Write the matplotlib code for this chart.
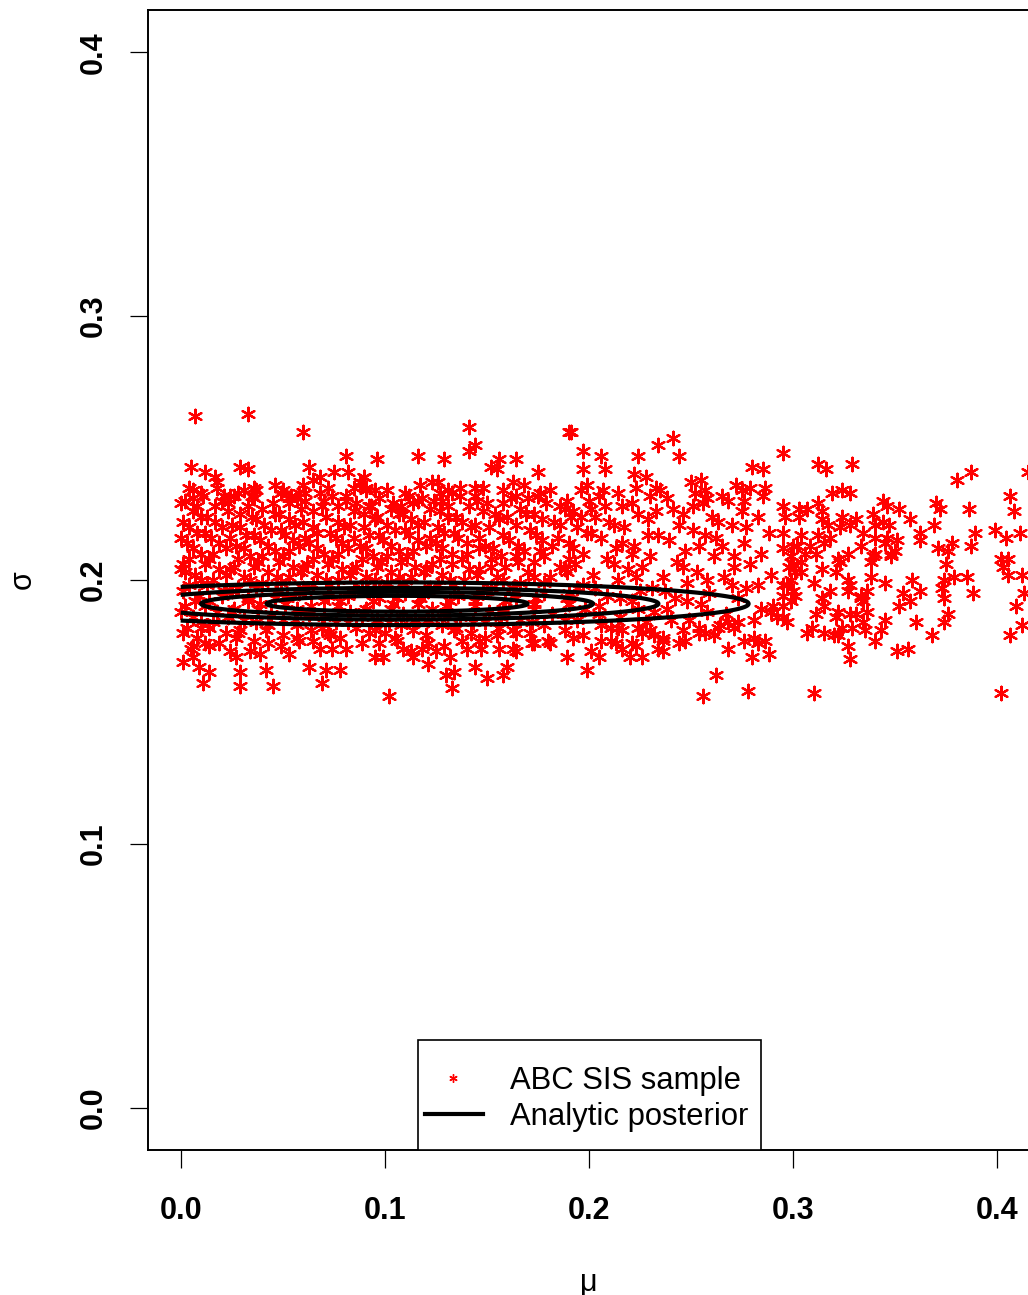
import numpy as np
import matplotlib.pyplot as plt
from matplotlib.lines import Line2D
from matplotlib.patches import Rectangle

plt.rcParams['font.family'] = ['Liberation Sans', 'DejaVu Sans']

# ABC SIS sample, values in thousandths (mu, sigma)
core_a = [
    (4,235),(18,237),(31,234),(46,236),(58,233),(72,235),(88,237),(101,234),(117,236),(133,233),(148,235),(163,237),(181,234),(199,236),(214,233),(233,235),(257,234),(272,236),
    (2,230),(11,232),(23,229),(36,231),(49,233),(61,230),(74,232),(86,229),(97,231),(110,233),(124,230),(137,232),(150,229),(162,231),(176,233),(189,230),(205,232),(221,229),(238,231),(252,233),(268,230),(285,232),
    (6,226),(17,228),(29,225),(40,227),(53,229),(65,226),(77,228),(90,225),(103,227),(114,229),(127,226),(141,228),(154,225),(166,227),(179,229),(192,226),(208,228),(224,225),(241,227),(256,229),(275,226),
    (1,222),(13,224),(25,221),(37,223),(48,225),(60,222),(71,224),(83,221),(95,223),(107,225),(119,222),(131,224),(144,221),(156,223),(169,225),(183,222),(196,224),(212,221),(229,223),(246,225),(263,222),(283,224),
    (8,218),(20,220),(32,217),(44,219),(56,221),(67,218),(80,220),(92,217),(105,219),(116,221),(129,218),(142,220),(158,217),(171,219),(186,221),(201,218),(217,220),(234,217),(251,219),(270,221),(288,218),
    (3,214),(15,216),(27,213),(39,215),(51,217),(63,214),(76,216),(88,213),(99,215),(112,217),(125,214),(136,216),(149,213),(161,215),(174,217),(190,214),(206,216),(222,213),(239,215),(257,217),(276,214),
    (10,210),(22,212),(34,209),(46,211),(58,213),(70,210),(82,212),(94,209),(107,211),(120,213),(133,210),(146,212),(157,209),(168,211),(182,213),(197,210),(213,212),(230,209),(247,211),(265,213),(284,210),
    (1,206),(14,208),(26,205),(38,207),(50,209),(62,206),(74,208),(86,205),(98,207),(111,209),(123,206),(138,208),(152,205),(165,207),(178,209),(193,206),(209,208),(226,205),(243,207),(261,209),(279,206),
    (7,202),(19,204),(31,201),(43,203),(55,205),(67,202),(79,204),(91,201),(103,203),(115,205),(128,202),(141,204),(155,201),(170,203),(186,205),(202,202),(219,204),(236,201),(253,203),(271,205),(289,202),
    (4,198),(16,200),(28,197),(40,199),(53,201),(65,198),(77,200),(89,197),(101,199),(113,201),(126,198),(139,200),(152,197),(166,199),(181,201),(197,198),(214,200),(231,197),(248,199),(266,201),(283,198),
    (9,194),(21,196),(33,193),(47,195),(60,197),(72,194),(85,196),(97,193),(110,195),(122,197),(136,194),(150,196),(164,193),(178,195),(194,197),(209,194),(225,196),(242,193),(259,195),(277,197),
    (2,190),(14,192),(26,189),(39,191),(52,193),(64,190),(78,192),(91,189),(104,191),(117,193),(130,190),(144,192),(158,189),(173,191),(189,193),(205,190),(221,192),(238,189),(255,191),(273,193),(290,190),
    (6,186),(18,188),(31,185),(44,187),(57,189),(70,186),(83,188),(96,185),(109,187),(123,189),(137,186),(151,188),(166,185),(182,187),(198,189),(215,186),(232,188),(249,185),(267,187),(284,189),
    (3,182),(16,184),(29,181),(43,183),(56,185),(69,182),(82,184),(95,181),(108,183),(121,185),(135,182),(149,184),(163,181),(178,183),(194,185),(211,182),(228,184),(246,181),(264,183),(281,185),
    (8,178),(22,180),(36,177),(50,179),(64,181),(78,178),(92,180),(106,177),(120,179),(134,181),(149,178),(164,180),(180,177),(197,179),(216,181),(236,178),(257,180),(276,177),
    (5,174),(19,176),(34,173),(49,175),(65,177),(81,174),(97,176),(113,173),(129,175),(146,177),(163,174),(181,176),(201,173),(223,175),(247,177),(268,174),
]
core_b = [
    (10,233),(24,232),(37,234),(54,232),(68,233),(81,232),(95,234),(112,232),(127,233),(144,232),(158,234),(175,232),
    (0,229),(8,228),(20,230),(33,228),(45,229),(57,231),(69,228),(81,230),(92,228),(104,229),(118,231),(131,228),(145,230),(158,229),(170,231),(186,228),(200,230),
    (10,224),(23,226),(35,224),(46,225),(59,227),(71,224),(85,226),(96,224),(109,225),(122,227),(135,224),(148,226),(160,224),(173,225),(188,227),(203,224),(233,226),(260,224),
    (4,220),(17,222),(29,220),(41,221),(53,223),(65,220),(77,222),(90,220),(101,221),(113,223),(126,220),(138,222),(151,220),(164,221),(177,223),(194,220),(210,222),(244,221),(277,220),
    (0,216),(12,218),(24,216),(36,217),(49,219),(61,216),(73,218),(85,216),(97,217),(110,219),(122,216),(134,218),(146,216),(158,217),(171,219),(185,216),(199,218),(229,217),(262,216),
    (6,212),(19,214),(31,212),(43,213),(55,215),(67,212),(79,214),(91,212),(103,213),(116,215),(128,212),(140,214),(153,212),(165,213),(177,215),(192,212),(216,214),(254,213),
    (4,208),(16,210),(28,208),(40,209),(53,211),(65,208),(77,210),(89,208),(101,209),(114,211),(127,208),(140,210),(152,208),(164,209),(176,211),(190,208),(221,210),(271,209),
    (0,204),(12,206),(24,204),(36,205),(48,207),(60,204),(72,206),(84,204),(96,205),(108,207),(120,204),(133,206),(146,204),(159,205),(173,207),(188,204),(212,206),(246,205),
    (10,200),(22,202),(34,200),(47,201),(59,203),(71,200),(83,202),(95,200),(107,201),(119,203),(132,200),(145,202),(158,200),(173,201),(189,203),(223,201),(258,200),
    (1,196),(13,198),(25,196),(37,197),(49,199),(61,196),(73,198),(85,196),(97,197),(109,199),(121,196),(134,198),(148,196),(163,197),(178,199),(203,197),(237,196),(270,198),
    (7,192),(20,194),(33,192),(46,193),(58,195),(70,192),(82,194),(94,192),(106,193),(119,195),(132,192),(145,194),(159,192),(174,193),(190,195),(215,193),(248,192),
    (0,188),(12,190),(25,188),(38,189),(51,191),(64,188),(77,190),(90,188),(103,189),(116,191),(130,188),(144,190),(158,188),(173,189),(190,191),(224,189),(258,188),
    (10,184),(23,186),(37,184),(50,185),(63,187),(76,184),(89,186),(102,184),(115,185),(129,187),(143,184),(157,186),(172,184),(188,185),(205,187),(240,185),(273,184),
    (1,180),(14,182),(28,180),(42,181),(57,183),(72,180),(86,182),(100,180),(114,181),(128,183),(142,180),(156,182),(171,180),(188,181),(206,183),(226,180),(254,182),
    (12,176),(27,178),(43,176),(58,177),(73,179),(89,176),(105,178),(121,176),(138,177),(155,179),(173,176),(192,178),(213,176),(236,177),(261,179),(283,176),
]
edge_pts = [
    (7,262),(33,263),(60,256),(81,247),(5,243),(12,241),(17,239),(29,243),(33,242),(63,243),(75,241),(82,241),(90,239),(68,239),(65,238),(60,236),(18,235),(36,235),(21,232),(26,232),(28,233),(35,232),(50,234),(53,231),(61,233),(6,234),(6,231),(85,235),(91,235),(70,230),
    (1,169),(6,171),(9,167),(14,165),(11,161),(29,165),(29,160),(42,166),(45,160),(63,167),(69,161),(71,166),(78,166),(74,174),(68,174),(53,172),(57,178),(24,173),(27,171),(39,172),(14,175),(6,175),(10,182),(2,203),
    (141,258),(141,249),(144,251),(96,246),(116,247),(129,246),(152,243),(155,242),(156,246),(164,246),(175,241),(190,256),(90,239),(91,234),(123,237),(126,237),(131,234),(137,235),(144,235),(168,236),(175,232),(164,232),(128,230),(116,230),(108,228),(93,228),(186,228),(191,224),
    (102,156),(133,159),(130,164),(134,165),(150,163),(144,167),(158,164),(160,167),(121,168),(114,171),(95,171),(99,171),(140,174),(147,174),(156,174),(164,173),(172,176),(189,171),(125,173),(132,171),(109,174),(118,174),
    (191,256),(197,249),(206,247),(224,247),(234,251),(241,254),(244,247),(197,242),(208,242),(222,240),(228,239),(250,237),(255,238),(280,243),(285,242),(196,234),(207,234),(223,235),(235,234),(275,234),(279,235),(286,235),(265,232),(258,231),(230,232),(216,228),(201,227),(251,228),(276,230),
    (199,166),(205,171),(216,174),(221,176),(220,171),(226,171),(234,174),(236,173),(244,176),(254,180),(262,164),(256,156),(278,158),(280,171),(288,172),(283,176),(286,177),(281,178),(211,177),(206,177),(214,182),(224,182),(230,181),(232,179),(289,188),(292,186),(268,184),(271,182),(263,182),
]
tail_pts = [
    (295,248),(312,244),(316,242),(329,244),(319,233),(324,234),(328,233),(380,238),(387,241),(415,241),(406,232),(408,226),(399,219),(404,216),(411,218),(389,218),(386,227),(387,213),(370,229),(372,227),(369,221),(378,214),(376,211),(371,212),(375,206),(385,201),(388,195),(379,201),(374,200),(373,197),(374,193),(376,187),(374,184),(368,179),(402,208),(405,208),(403,205),(405,202),(412,202),(413,195),(409,190),(412,183),(406,179),(402,157),(310,157),
    (358,200),(362,196),(354,195),(357,192),(352,190),(360,184),(356,174),(351,173),(362,218),(362,215),(357,223),(352,227),(345,199),(343,181),(340,177),(345,185),(336,188),(334,184),(335,181),(333,193),(336,196),(338,201),(339,209),(338,207),(340,210),(348,209),(348,210),(350,211),(346,216),(345,214),(351,215),(340,216),(333,213),(334,218),(340,221),(344,222),(347,221),(339,225),(344,230),(346,228),
    (327,210),(328,221),(331,223),(323,220),(324,224),(317,221),(314,226),(312,229),(314,223),(318,216),(315,214),(312,217),(322,208),(323,207),(321,203),(314,204),(327,200),(328,198),(327,196),(318,196),(333,194),(334,192),(310,199),(314,193),(315,190),(311,187),(322,188),(321,186),(328,187),(331,187),(329,182),(324,182),(322,179),(320,179),(315,180),(307,180),(309,182),(327,175),(328,170),
    (303,227),(307,227),(303,224),(295,228),(296,224),(295,218),(304,217),(302,213),(300,213),(308,213),(311,210),(306,210),(295,212),(299,209),(300,206),(304,207),(298,205),(301,203),(304,203),(299,200),(297,198),(295,198),(300,196),(295,194),(301,194),(299,192),(295,190),(297,184),(295,186),
]

# analytic posterior: centre, spread and contour levels (relative density)
post_center = (0.106, 0.191)
post_sd = (0.064, 0.003)
post_levels = [0.0268, 0.1353, 0.3247, 0.6065]

legend_labels = ['ABC SIS sample', 'Analytic posterior']

pts = np.array(core_a + core_b + edge_pts + tail_pts) / 1000.0

fig = plt.figure(figsize=(10.28, 12.95), dpi=100)
ax = fig.add_axes([148/1028, 145/1295, 882/1028, 1140/1295])

ax.scatter(pts[:, 0], pts[:, 1], marker=(6, 2, 0), s=95, c='#ff0000', linewidths=1.6)

mu_grid = np.linspace(0, 0.4, 400)
sig_grid = np.linspace(0.15, 0.25, 300)
M, S = np.meshgrid(mu_grid, sig_grid)
dens = np.exp(-0.5 * (((M - post_center[0]) / post_sd[0]) ** 2 + ((S - post_center[1]) / post_sd[1]) ** 2))
ax.contour(M, S, dens, levels=post_levels, colors='black', linewidths=3.0)

ax.set_xlim(-0.016, 0.416)
ax.set_ylim(-0.016, 0.416)
ticks = [0.0, 0.1, 0.2, 0.3, 0.4]
ax.set_xticks(ticks)
ax.set_yticks(ticks)
ax.set_xticklabels(['0.0', '0.1', '0.2', '0.3', '0.4'], fontsize=22, fontweight='bold')
ax.set_yticklabels(['0.0', '0.1', '0.2', '0.3', '0.4'], fontsize=22, fontweight='bold',
                   rotation=90, va='center')
ax.tick_params(direction='out', length=13, width=0.9)
ax.tick_params(axis='x', pad=20)
ax.tick_params(axis='y', pad=15)
for sp in ax.spines.values():
    sp.set_linewidth(1.4)

ax.set_xlabel('μ', fontsize=22, labelpad=30)
ax.set_ylabel('σ', fontsize=22, labelpad=30)

# legend box drawn by hand to match the original's padding
tr = ax.transAxes
ax.add_patch(Rectangle((0.3061, 0.0), 0.3889, 0.0965, transform=tr, fill=True,
                       facecolor='white', edgecolor='black', linewidth=1.2, zorder=5))
ax.add_line(Line2D([0.3458], [0.0632], transform=tr, marker=(6, 2, 0), color='#ff0000',
                   linestyle='none', markersize=6, markeredgewidth=1.0, zorder=6))
ax.add_line(Line2D([0.3141, 0.3798], [0.0316, 0.0316], transform=tr, color='black',
                   linewidth=3.0, zorder=6))
ax.text(0.4104, 0.0606, legend_labels[0], transform=tr, fontsize=22.3, va='center', zorder=6)
ax.text(0.4104, 0.0290, legend_labels[1], transform=tr, fontsize=22.3, va='center', zorder=6)

fig.savefig('out.png', dpi=100)
